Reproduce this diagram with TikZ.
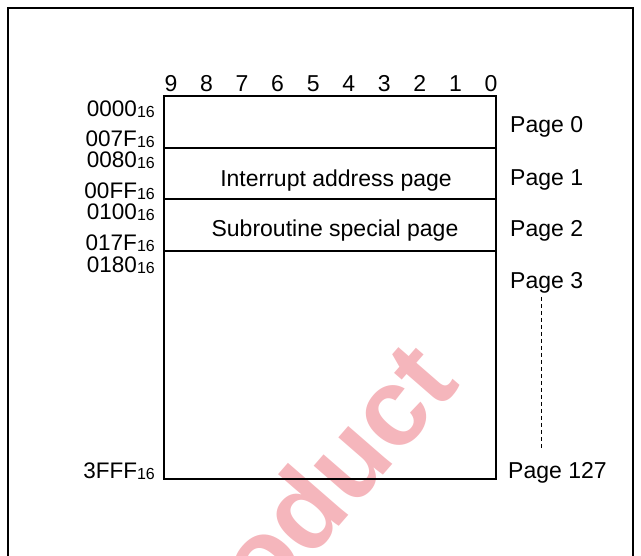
\documentclass[tikz,border=0pt]{standalone}
\usepackage{fontspec}
\setmainfont{Liberation Sans}
\definecolor{wmred}{RGB}{245,182,188}
\newcommand{\hexaddr}[1]{#1\raisebox{-1pt}{\fontsize{16pt}{16pt}\selectfont 16}}
\tikzset{
    boxline/.style={
           draw=black,
           line width=2pt},
    rowline/.style={
           draw=black,
           line width=1.2pt},
    addr/.style={
           anchor=base east,
           inner sep=0pt,
           font=\fontsize{22.5pt}{26pt}\selectfont},
    pagelbl/.style={
           anchor=base west,
           inner sep=0pt,
           font=\fontsize{23pt}{27pt}\selectfont},
    bitlbl/.style={
           anchor=base,
           inner sep=0pt,
           font=\fontsize{23pt}{27pt}\selectfont},
    pagedots/.style={
           draw=black,
           line width=1pt,
           dash pattern=on 4pt off 3pt}
}

\begin{document}
\begin{tikzpicture}[x=1pt,y=-1pt]
          \useasboundingbox (0,0) rectangle (641,556);
          \def \xl {164}
          \def \xr {496}
          \def \yt {96}
          \def \yb {479}
          \node[text=wmred, inner sep=0pt, rotate=49, font=\fontsize{110pt}{110pt}\selectfont\bfseries](wm) at (334,472) {oduct};
          \draw[boxline] (8,556) -- (8,8) -- (633,8) -- (633,556);
          \draw[boxline] (\xl,\yt) rectangle (\xr,\yb);
          \draw[rowline] (\xl,148) -- (\xr,148);
          \draw[rowline] (\xl,199) -- (\xr,199);
          \draw[rowline] (\xl,251) -- (\xr,251);
          \foreach \b in {0,...,9}
              \node[bitlbl](bit\b) at ({491-35.56*\b},92) {\b};
          \node[addr](a0000) at (155,117) {\hexaddr{0000}};
          \node[addr](a007F) at (155,147) {\hexaddr{007F}};
          \node[addr](a0080) at (155,168) {\hexaddr{0080}};
          \node[addr](a00FF) at (155,199) {\hexaddr{00FF}};
          \node[addr](a0100) at (155,220) {\hexaddr{0100}};
          \node[addr](a017F) at (155,251) {\hexaddr{017F}};
          \node[addr](a0180) at (155,273) {\hexaddr{0180}};
          \node[addr](a3FFF) at (155,479) {\hexaddr{3FFF}};
          \node[bitlbl](intpage) at (336,187) {Interrupt address page};
          \node[bitlbl](subpage) at (335,237) {Subroutine special page};
          \node[pagelbl](page0) at (510,133) {Page 0};
          \node[pagelbl](page1) at (510,186) {Page 1};
          \node[pagelbl](page2) at (510,237) {Page 2};
          \node[pagelbl](page3) at (510,289) {Page 3};
          \node[pagelbl](page127) at (508,479) {Page 127};
          \coordinate (dtop) at (541,297);
          \coordinate (dbot) at (541,448);
          \draw[pagedots] (dtop) -- (dbot);
\end{tikzpicture}
\end{document}
